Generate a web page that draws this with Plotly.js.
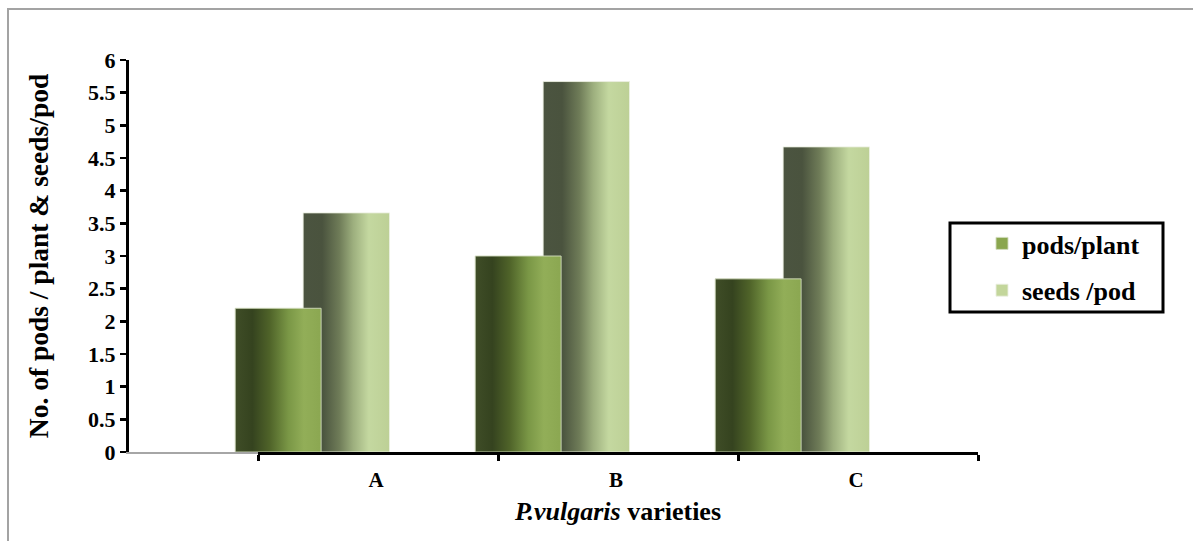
<!DOCTYPE html>
<html>
<head>
<meta charset="utf-8">
<script src="https://cdn.plot.ly/plotly-3.0.1.min.js"></script>
<style>
  html, body { margin: 0; padding: 0; background: #fff; }
  #wrap { position: relative; width: 1193px; height: 541px; }
  #chart { width: 1193px; height: 541px; }
  #frame { position: absolute; left: 7px; top: 8px; right: 0; bottom: 0;
           border-left: 2px solid #A3A3A3; border-top: 2px solid #A3A3A3; pointer-events: none; }
</style>
</head>
<body>
<div id="wrap">
  <div id="chart"></div>
  <div id="frame"></div>
</div>
<script>
// ---- data ----
const categories = ['A', 'B', 'C'];
const podsPerPlant = [2.2, 3.0, 2.65];
const seedsPerPod = [3.66, 5.67, 4.67];
const seriesNames = ['pods/plant', 'seeds /pod'];
const yTicks = [0, 0.5, 1, 1.5, 2, 2.5, 3, 3.5, 4, 4.5, 5, 5.5, 6];

const serif = '"Liberation Serif", "Times New Roman", serif';
const W = 1193, H = 541;
const L = 129, R = 978, T = 60, B = 452;
const pw = R - L, ph = B - T;
const px = v => (v - L) / pw;        // pixel -> paper x
const py = v => (B - v) / ph;        // pixel -> paper y

const seedsTrace = {
  type: 'bar', name: seriesNames[1], x: categories, y: seedsPerPod,
  width: 0.36, offset: -0.037,
  marker: { color: '#C3D69B', line: { color: 'rgba(235,240,225,0.9)', width: 1 } },
  legendgroup: 'g2', legendrank: 2
};
const podsTrace = {
  type: 'bar', name: seriesNames[0], x: categories, y: podsPerPlant,
  width: 0.358, offset: -0.32,
  marker: { color: '#8AA64E', line: { color: 'rgba(210,220,190,0.9)', width: 1 } },
  legendgroup: 'g1', legendrank: 1
};
const dummy = { type: 'scatter', x: [0], y: [0], xaxis: 'x2', yaxis: 'y',
  mode: 'markers', marker: { opacity: 0 }, showlegend: false, hoverinfo: 'skip' };

const layout = {
  width: W, height: H,
  margin: { l: L, r: W - R, t: T, b: H - B, pad: 0 },
  paper_bgcolor: '#fff', plot_bgcolor: 'rgba(0,0,0,0)',
  barmode: 'overlay',
  showlegend: true,
  font: { family: serif, color: '#000' },
  xaxis: {
    type: 'category', range: [-0.7625, 2.775],
    showline: true, linecolor: '#A6A6A6', linewidth: 1.5,
    ticks: '', showgrid: false, zeroline: false,
    ticklabelshift: 64, ticklabelstandoff: 8,
    tickfont: { family: serif, size: 21, color: '#000', weight: 'bold' }
  },
  xaxis2: {
    anchor: 'y', domain: [px(258), 1], range: [-0.225, 2.775],
    tickmode: 'linear', tick0: -0.225, dtick: 1,
    showline: true, linecolor: '#000', linewidth: 3,
    ticks: 'outside', ticklen: 6, tickwidth: 3, tickcolor: '#000',
    showticklabels: false, showgrid: false, zeroline: false,
    title: { text: '<i>P.vulgaris</i> varieties', standoff: 42,
             font: { family: serif, size: 26, color: '#000', weight: 'bold' } }
  },
  yaxis: {
    range: [0, 6], tickvals: yTicks,
    showline: true, linecolor: '#000', linewidth: 3,
    ticks: 'outside', ticklen: 6, tickwidth: 2.5, tickcolor: '#000',
    showgrid: false, zeroline: false,
    tickfont: { family: serif, size: 22, color: '#000', weight: 'bold' },
    title: { text: 'No. of pods / plant & seeds/pod', standoff: 32,
             font: { family: serif, size: 27.5, color: '#000', weight: 'bold' } }
  },
  legend: {
    x: px(982), xanchor: 'left', y: py(220), yanchor: 'top',
    bgcolor: 'rgba(0,0,0,0)', borderwidth: 0,
    traceorder: 'grouped', tracegroupgap: 10,
    font: { family: serif, size: 26, color: '#000', weight: 'bold' }
  },
  shapes: [{
    type: 'rect', xref: 'paper', yref: 'paper',
    x0: px(950), x1: px(1163), y0: py(312), y1: py(223),
    line: { color: '#000', width: 3 }, fillcolor: 'rgba(0,0,0,0)', layer: 'above'
  }]
};

const gd = document.getElementById('chart');
Plotly.newPlot(gd, [seedsTrace, podsTrace, dummy], layout, { staticPlot: true, displayModeBar: false })
.then(() => {
  const svg = gd.querySelector('svg.main-svg');
  const NS = 'http://www.w3.org/2000/svg';
  let defs = svg.querySelector('defs');
  if (!defs) { defs = document.createElementNS(NS, 'defs'); svg.insertBefore(defs, svg.firstChild); }
  function grad(id, stops) {
    const g = document.createElementNS(NS, 'linearGradient');
    g.setAttribute('id', id);
    g.setAttribute('x1', '0'); g.setAttribute('x2', '1'); g.setAttribute('y1', '0'); g.setAttribute('y2', '0');
    stops.forEach(([o, c]) => {
      const s = document.createElementNS(NS, 'stop');
      s.setAttribute('offset', o); s.setAttribute('stop-color', c);
      g.appendChild(s);
    });
    defs.appendChild(g);
  }
  grad('gradSeeds', [[0, '#4B5440'], [0.22, '#4A533E'], [0.42, '#6F7C58'], [0.58, '#9DAF7E'], [0.76, '#C4D8A0'], [1, '#BDD096']]);
  grad('gradPods', [[0, '#3F4D27'], [0.2, '#35431F'], [0.4, '#4F6329'], [0.62, '#7A9746'], [0.8, '#92AE58'], [1, '#8BA751']]);
  const traces = gd.querySelectorAll('.barlayer .trace');
  const ids = ['gradSeeds', 'gradPods'];
  traces.forEach((t, i) => {
    t.querySelectorAll('path').forEach(p => { p.style.fill = 'url(#' + ids[i] + ')'; });
  });
});
</script>
</body>
</html>
